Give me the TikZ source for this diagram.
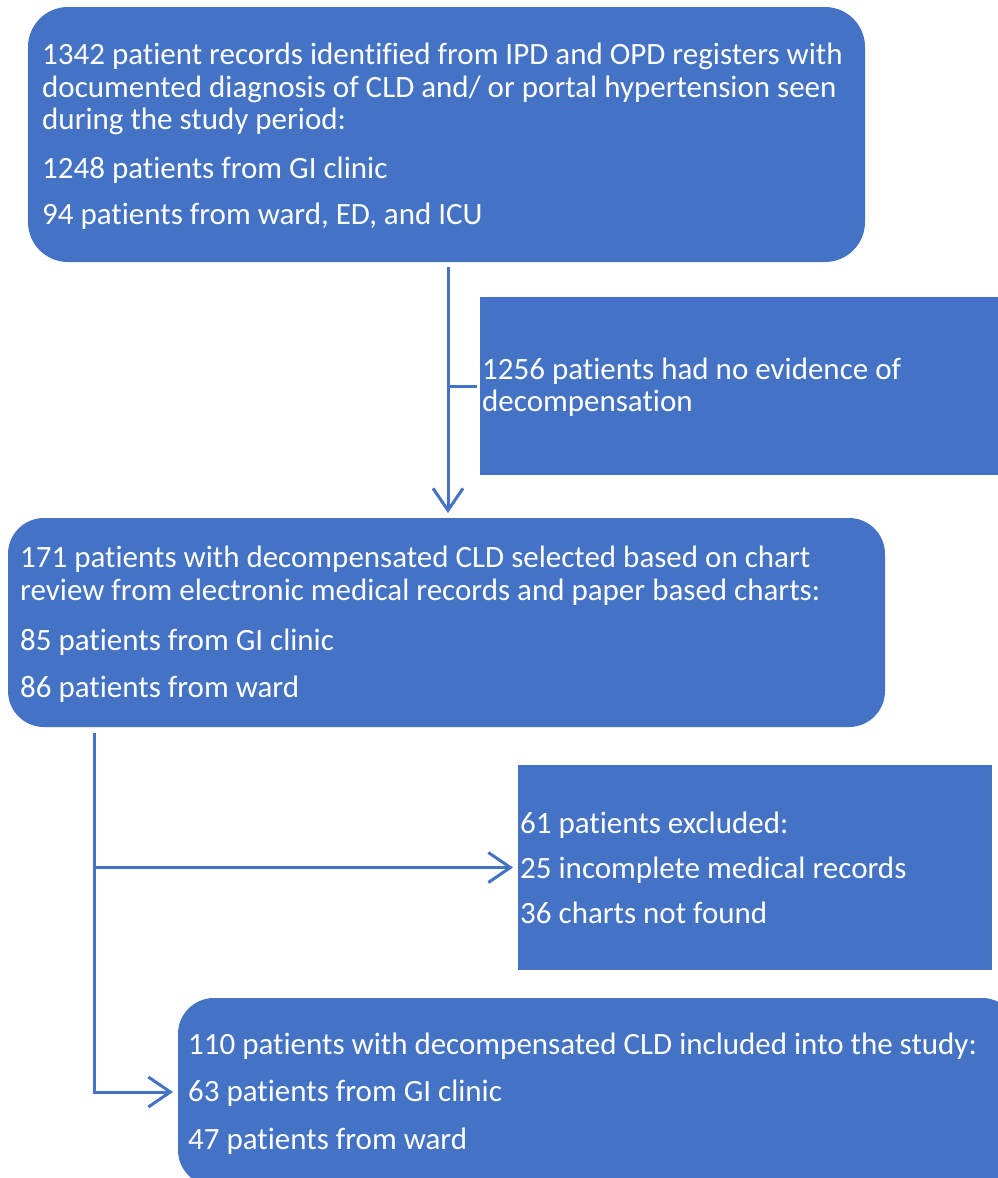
\documentclass[tikz,border=0pt]{standalone}
\usepackage{fontspec}
\setmainfont[Ligatures={NoCommon}]{Carlito}
\usetikzlibrary{arrows.meta,calc}
\definecolor{boxblue}{HTML}{4472C4}
\begin{document}
\begin{tikzpicture}[x=1pt,y=-1pt,
  box/.style={fill=boxblue,draw=none,inner sep=0pt,outer sep=0pt},
  txt/.style={text=white,anchor=base west,inner sep=0pt,font=\fontsize{31}{33}\selectfont},
  conn/.style={draw=boxblue,line width=3pt},
  arr/.style={conn,-{Straight Barb[length=22pt,width=30pt,line width=3pt]}}]
\clip (0,0) rectangle (998,1178);
\fill[white] (0,0) rectangle (998,1178);
% boxes
\node[box,rounded corners=40pt,minimum width=837pt,minimum height=255pt] (top) at (446.5,134.5) {};
\node[box,minimum width=518pt,minimum height=178pt] (side1) at (739,386) {};
\node[box,rounded corners=36pt,minimum width=877pt,minimum height=209pt] (mid) at (446.5,622.5) {};
\node[box,minimum width=474pt,minimum height=205pt] (side2) at (755,867.5) {};
\node[box,rounded corners=36pt,minimum width=840pt,minimum height=188pt] (bot) at (598,1092) {};
% texts
\node[txt] (t1) at (42,64) {1342 patient records identified from IPD and OPD registers with};
\node[txt] (t2) at (42,97) {documented diagnosis of CLD and/ or portal hypertension seen};
\node[txt] (t3) at (42,129) {during the study period:};
\node[txt] (t4) at (42,178) {1248 patients from GI clinic};
\node[txt] (t5) at (42,224) {94 patients from ward, ED, and ICU};
\node[txt] (s1a) at (482,379) {1256 patients had no evidence of};
\node[txt] (s1b) at (482,411) {decompensation};
\node[txt] (m1) at (20,567) {171 patients with decompensated CLD selected based on chart};
\node[txt] (m2) at (20,600) {review from electronic medical records and paper based charts:};
\node[txt] (m3) at (20,650) {85 patients from GI clinic};
\node[txt] (m4) at (20,697) {86 patients from ward};
\node[txt] (x1) at (520,833) {61 patients excluded:};
\node[txt] (x2) at (520,878) {25 incomplete medical records};
\node[txt] (x3) at (520,923) {36 charts not found};
\node[txt] (b1) at (188,1054) {110 patients with decompensated CLD included into the study:};
\node[txt] (b2) at (188,1101) {63 patients from GI clinic};
\node[txt] (b3) at (188,1149) {47 patients from ward};
% connectors
\coordinate (a1) at ([xshift=1.5pt,yshift=-5pt]top.south);
\coordinate (a1e) at (a1 |- mid.north);
\draw[arr] (a1) -- ([yshift=5pt]a1e);
\draw[conn] (a1 |- side1.west) -- ([xshift=-3pt]side1.west);
\coordinate (s2) at (94,733);
\draw[arr] (s2) |- ([xshift=-5pt]bot.west);
\draw[arr] (s2 |- side2.west) -- ([xshift=-5pt]side2.west);
\end{tikzpicture}
\end{document}
